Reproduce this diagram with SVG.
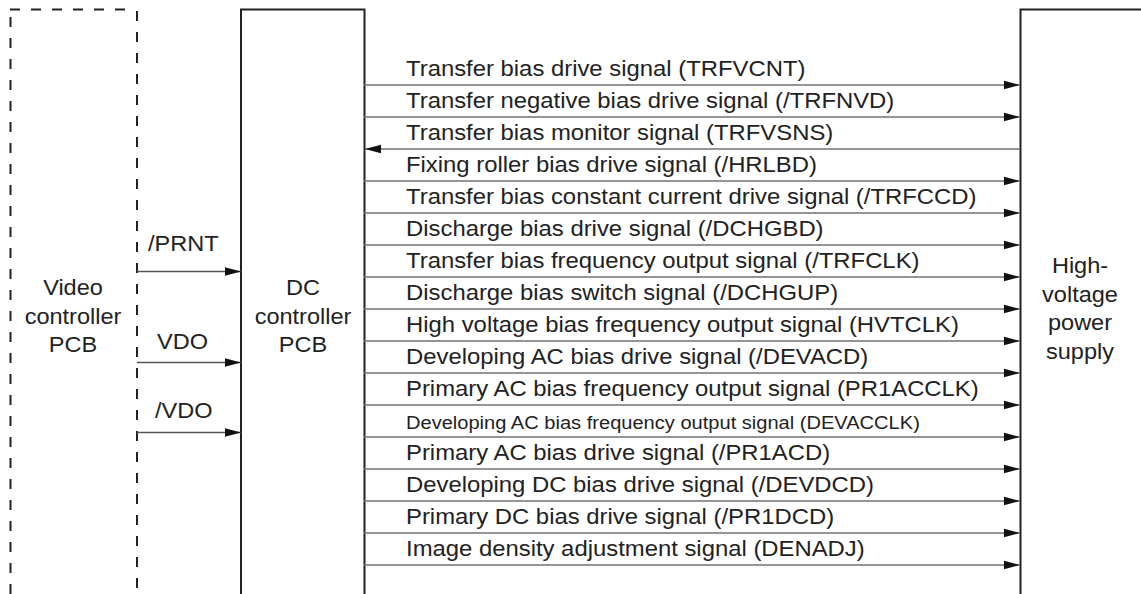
<svg xmlns="http://www.w3.org/2000/svg" width="1141" height="594" viewBox="0 0 1141 594">
<style>
.box{fill:none;stroke:#222;stroke-width:2}
.dash{fill:none;stroke:#222;stroke-width:2;stroke-dasharray:10 11}
.sig{stroke:#707070;stroke-width:1.4;fill:none}
.in{stroke:#555;stroke-width:1.4;fill:none}
text{font-family:"Liberation Sans",Arial,sans-serif;fill:#222}
.lbl{font-size:22px}
.small{font-size:18.5px}
.node{font-size:22px;text-anchor:middle}
</style>
<defs>
<marker id="ah" markerUnits="userSpaceOnUse" markerWidth="17" markerHeight="9" refX="16" refY="4.3" orient="auto">
<path d="M0,0 L16,4.3 L0,8.6 Z" fill="#111"/>
</marker>
</defs>
<rect width="1141" height="594" fill="#fff"/>
<g id="video-controller">
<path class="dash" d="M10,9.5 H130"/>
<path class="dash" d="M10.5,17 V594"/>
<path class="dash" d="M137,11 V594"/>
<g transform="translate(73,0) scale(1.07,1)">
<text class="node" x="0" y="295">Video</text>
<text class="node" x="0" y="324">controller</text>
<text class="node" x="0" y="352">PCB</text>
</g>
</g>
<g id="dc-controller">
<path class="box" d="M241,600 V9.5 H364.5 V600"/>
<g transform="translate(303,0) scale(1.07,1)">
<text class="node" x="0" y="295">DC</text>
<text class="node" x="0" y="324">controller</text>
<text class="node" x="0" y="352">PCB</text>
</g>
</g>
<g id="hv-power-supply">
<path class="box" d="M1020.5,600 V9.5 H1142"/>
<g transform="translate(1080,0) scale(1.07,1)">
<text class="node" x="0" y="273">High-</text>
<text class="node" x="0" y="302">voltage</text>
<text class="node" x="0" y="330.5">power</text>
<text class="node" x="0" y="359">supply</text>
</g>
</g>
<g id="connectors">
<line class="in" x1="137" y1="271.5" x2="241" y2="271.5" marker-end="url(#ah)"/>
<line class="in" x1="137" y1="362.5" x2="241" y2="362.5" marker-end="url(#ah)"/>
<line class="in" x1="137" y1="432.5" x2="241" y2="432.5" marker-end="url(#ah)"/>
<line class="sig" x1="364" y1="85" x2="1020" y2="85" marker-end="url(#ah)"/>
<line class="sig" x1="364" y1="117" x2="1020" y2="117" marker-end="url(#ah)"/>
<line class="sig" x1="1020" y1="149" x2="365" y2="149" marker-end="url(#ah)"/>
<line class="sig" x1="364" y1="181" x2="1020" y2="181" marker-end="url(#ah)"/>
<line class="sig" x1="364" y1="213" x2="1020" y2="213" marker-end="url(#ah)"/>
<line class="sig" x1="364" y1="245" x2="1020" y2="245" marker-end="url(#ah)"/>
<line class="sig" x1="364" y1="277" x2="1020" y2="277" marker-end="url(#ah)"/>
<line class="sig" x1="364" y1="309" x2="1020" y2="309" marker-end="url(#ah)"/>
<line class="sig" x1="364" y1="341" x2="1020" y2="341" marker-end="url(#ah)"/>
<line class="sig" x1="364" y1="373" x2="1020" y2="373" marker-end="url(#ah)"/>
<line class="sig" x1="364" y1="405" x2="1020" y2="405" marker-end="url(#ah)"/>
<line class="sig" x1="364" y1="437" x2="1020" y2="437" marker-end="url(#ah)"/>
<line class="sig" x1="364" y1="469" x2="1020" y2="469" marker-end="url(#ah)"/>
<line class="sig" x1="364" y1="501" x2="1020" y2="501" marker-end="url(#ah)"/>
<line class="sig" x1="364" y1="533" x2="1020" y2="533" marker-end="url(#ah)"/>
<line class="sig" x1="364" y1="565" x2="1020" y2="565" marker-end="url(#ah)"/>
</g>
<g id="input-labels">
<g transform="translate(148,0) scale(1.07,1)"><text class="lbl" x="0" y="251">/PRNT</text></g>
<g transform="translate(157,0) scale(1.07,1)"><text class="lbl" x="0" y="349">VDO</text></g>
<g transform="translate(155,0) scale(1.07,1)"><text class="lbl" x="0" y="418.5">/VDO</text></g>
</g>
<g id="signal-labels" transform="translate(406,0) scale(1.085,1)">
<text class="lbl" x="0" y="76.5">Transfer bias drive signal (TRFVCNT)</text>
<text class="lbl" x="0" y="108.5">Transfer negative bias drive signal (/TRFNVD)</text>
<text class="lbl" x="0" y="140.5">Transfer bias monitor signal (TRFVSNS)</text>
<text class="lbl" x="0" y="172.5">Fixing roller bias drive signal (/HRLBD)</text>
<text class="lbl" x="0" y="204.5">Transfer bias constant current drive signal (/TRFCCD)</text>
<text class="lbl" x="0" y="236.5">Discharge bias drive signal (/DCHGBD)</text>
<text class="lbl" x="0" y="268.5">Transfer bias frequency output signal (/TRFCLK)</text>
<text class="lbl" x="0" y="300.5">Discharge bias switch signal (/DCHGUP)</text>
<text class="lbl" x="0" y="332.5">High voltage bias frequency output signal (HVTCLK)</text>
<text class="lbl" x="0" y="364.5">Developing AC bias drive signal (/DEVACD)</text>
<text class="lbl" x="0" y="396.5">Primary AC bias frequency output signal (PR1ACCLK)</text>
<text class="small" x="0" y="429">Developing AC bias frequency output signal (DEVACCLK)</text>
<text class="lbl" x="0" y="460.5">Primary AC bias drive signal (/PR1ACD)</text>
<text class="lbl" x="0" y="492.5">Developing DC bias drive signal (/DEVDCD)</text>
<text class="lbl" x="0" y="524.5">Primary DC bias drive signal (/PR1DCD)</text>
<text class="lbl" x="0" y="556.5">Image density adjustment signal (DENADJ)</text>
</g>
</svg>
